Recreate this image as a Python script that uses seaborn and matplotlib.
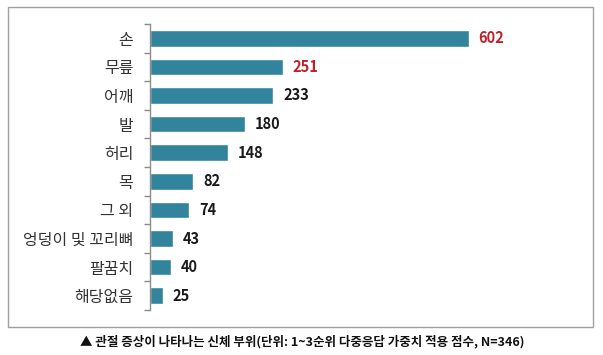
import numpy as np
import pandas as pd
import matplotlib
matplotlib.use("Agg")
import matplotlib.pyplot as plt
import seaborn as sns
from matplotlib.patches import Rectangle

# data
parts = ['손', '무릎', '어깨', '발', '허리', '목', '그 외', '엉덩이 및 꼬리뼈', '팔꿈치', '해당없음']
scores = [602, 251, 233, 180, 148, 82, 74, 43, 40, 25]
highlight = ['손', '무릎']
caption = '▲ 관절 증상이 나타나는 신체 부위(단위: 1~3순위 다중응답 가중치 적용 점수, N=346)'

df = pd.DataFrame({'part': parts, 'score': scores})

sns.set_style('white')
plt.rcParams['font.family'] = ['Noto Sans CJK KR', 'DejaVu Sans']

bar_color = '#31849B'
red = '#C0202A'

fig = plt.figure(figsize=(6.03, 3.55), dpi=100)
ax = fig.add_axes([150 / 603, 1 - 310 / 355, 410 / 603, 286 / 355])

sns.barplot(data=df, x='score', y='part', orient='h', color=bar_color,
            width=0.58, saturation=1, ax=ax)

ax.set_xlim(0, 410 / (319 / 602))
ax.set_ylim(len(parts) - 0.5, -0.5)

for i, (p, v) in enumerate(zip(parts, scores)):
    ax.text(v + 18, i, str(v), va='center', ha='left', fontsize=10.5,
            fontweight='bold', color=red if p in highlight else '#1a1a1a')

for s in ['top', 'right', 'bottom']:
    ax.spines[s].set_visible(False)
ax.spines['left'].set_color('#8c8c8c')
ax.spines['left'].set_linewidth(1.0)

ax.set_xticks([])
ax.set_xlabel('')
ax.set_ylabel('')
ax.set_yticks(np.arange(len(parts)))
ax.set_yticklabels(parts, fontsize=11.5, color='#333333')
ax.tick_params(axis='y', which='major', length=0, pad=12)
ax.set_yticks(np.arange(len(parts) + 1) - 0.5, minor=True)
ax.tick_params(axis='y', which='minor', left=True, length=4,
               color='#8c8c8c', width=1.0)

# outer frame around the chart
fig.patches.append(Rectangle((8 / 603, 1 - 327 / 355), 585 / 603, 320 / 355,
                             transform=fig.transFigure, fill=False,
                             edgecolor='#a0a0a0', linewidth=1.0))

fig.text(302 / 603, 1 - 342 / 355, caption, ha='center', va='center',
         fontsize=9, fontweight='bold', color='#111111')

fig.savefig('out.png', dpi=100)
